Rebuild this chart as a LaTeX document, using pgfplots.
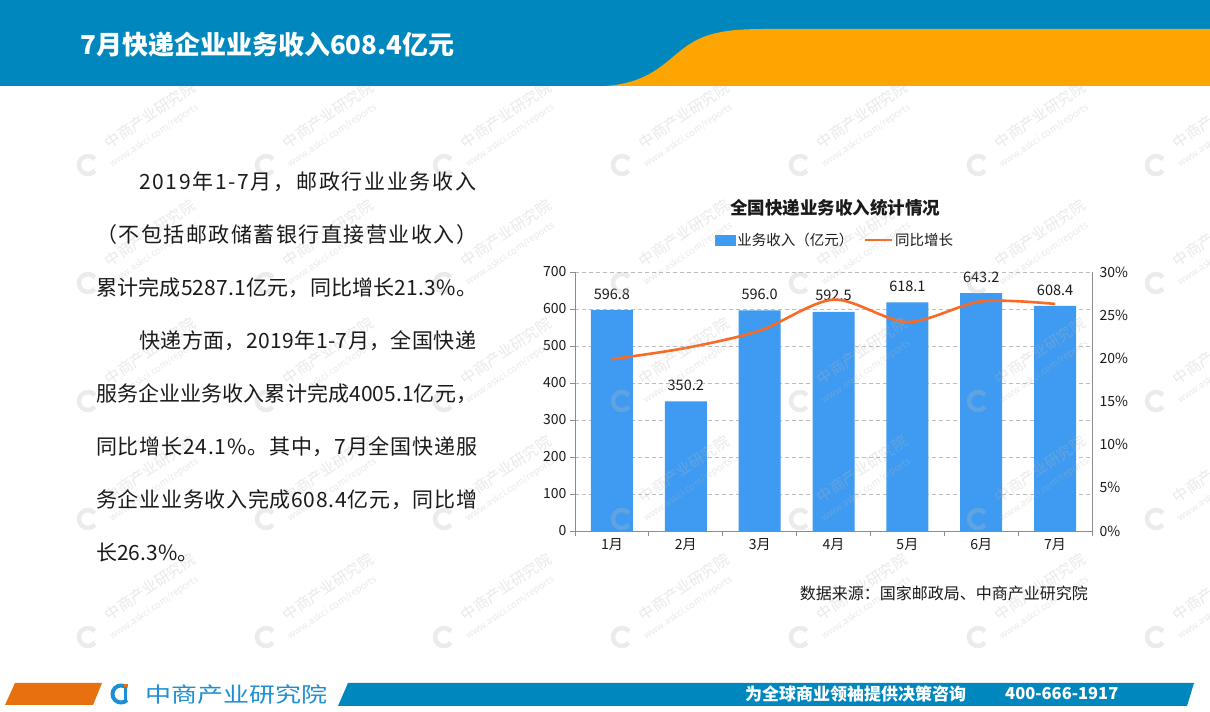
\documentclass[border=0pt]{standalone}
\usepackage{pgfplots}
\pgfplotsset{compat=1.18}
\usepackage{fontspec}
\setmainfont{Noto Sans CJK SC}
\usepackage{graphicx}

\definecolor{headblue}{HTML}{0088BE}
\definecolor{headorange}{HTML}{FFA502}
\definecolor{barblue}{HTML}{3E9BF1}
\definecolor{lineorange}{HTML}{F96A25}
\definecolor{gridgray}{HTML}{BDBDBD}
\definecolor{axisgray}{HTML}{8C8C8C}
\definecolor{textblack}{HTML}{1A1A1A}
\definecolor{footorange}{HTML}{E7700F}
\definecolor{logoblue}{HTML}{1E8FD5}
\definecolor{wmcol}{HTML}{B8B8B8}

% spread the characters of one line over a fixed width (justified CJK line)
\makeatletter
\newcommand\spreadline[2]{\hbox to #1{\@tfor\sp@c:=#2\do{\sp@c\hfil}\unskip}}
\makeatother

\newcommand\fs[1]{\fontsize{#1}{#1}\selectfont}

\begin{document}
\begin{tikzpicture}
\useasboundingbox (0,0) rectangle (1210pt,712pt);
\fill[white] (0,0) rectangle (1210pt,712pt);

% bars, left axis
\begin{axis}[
  at={(575pt,181pt)}, anchor=south west,
  scale only axis, width=517pt, height=259pt,
  xmin=0.5, xmax=7.5, ymin=0, ymax=700,
  axis x line*=bottom, axis y line*=left,
  axis line style={draw=axisgray, line width=0.8pt, -},
  xtick={0.5,1.5,...,7.5}, xticklabels={},
  extra x ticks={1,...,7},
  extra x tick labels={1月,2月,3月,4月,5月,6月,7月},
  extra x tick style={major tick length=0pt, tick label style={yshift=-4pt}},
  ytick={0,100,...,700},
  ymajorgrids,
  grid style={draw=gridgray, line width=0.7pt, dash pattern=on 4pt off 3pt},
  tick align=outside, major tick length=5pt,
  tick style={draw=axisgray, line width=0.8pt},
  tick label style={font=\fs{14}, text=textblack},
  /pgf/number format/assume math mode=true,
  nodes near coords={\pgfmathprintnumber[fixed,fixed zerofill,precision=1]{\pgfplotspointmeta}},
  nodes near coords style={font=\fs{14.5}, text=textblack, anchor=center, yshift=16pt},
  clip=false,
]
\addplot[ybar, bar width=42pt, fill=barblue, draw=none]
  coordinates {(1,596.8) (2,350.2) (3,596.0) (4,592.5) (5,618.1) (6,643.2) (7,608.4)};
\end{axis}

% growth line, right axis
\begin{axis}[
  at={(575pt,181pt)}, anchor=south west,
  scale only axis, width=517pt, height=259pt,
  xmin=0.5, xmax=7.5, ymin=0, ymax=30,
  axis x line=none, axis y line*=right,
  axis line style={draw=axisgray, line width=0.8pt, -},
  ytick={0,5,...,30},
  yticklabel={\pgfmathprintnumber{\tick}\%},
  major tick length=0pt,
  yticklabel style={font=\fs{14}, text=textblack, xshift=4pt},
  /pgf/number format/assume math mode=true,
  legend style={at={(0.503,1.124)}, anchor=center, draw=none, fill=none,
    font=\fs{14.5}, text=textblack, legend columns=-1,
    /tikz/every even column/.append style={column sep=8pt}},
  clip=false,
]
\addlegendimage{legend image code/.code={\fill[barblue] (0pt,-5pt) rectangle (20pt,5pt);}}
\addlegendentry{业务收入（亿元）}
\addplot[smooth, color=lineorange, line width=2.6pt,
  legend image code/.code={\draw[lineorange, line width=2.6pt] (0pt,0pt) -- (27pt,0pt);}]
  coordinates {(1,19.9) (2,21.2) (3,23.2) (4,26.8) (5,24.2) (6,26.6) (7,26.3)};
\addlegendentry{同比增长}
\end{axis}

\begin{scope}[shift={(0pt,712pt)}, x=1pt, y=-1pt]
  % header band
  \fill[headblue] (0,0) rectangle (1210,86);
  \fill[headorange] (605,86) .. controls (650,83) and (665,62) .. (684,48)
    .. controls (703,34) and (722,29) .. (765,29) -- (1210,29) -- (1210,86) -- cycle;
  \node[anchor=base west, text=white, font=\bfseries\fs{26}, inner sep=0pt]
    at (80,55) {7月快递企业业务收入608.4亿元};

  % footer
  \fill[footorange] (15,683) -- (102,683) -- (93,705) -- (5,705) -- cycle;
  \fill[headblue] (348,683) -- (1194,683) -- (1187,706) -- (338,706) -- cycle;
  \draw[logoblue, line width=4pt] ([shift={(45:8.5)}]121,694) arc[start angle=45, end angle=315, radius=8.5];
  \fill[logoblue] (123.5,688) rectangle (127,701);
  \fill[footorange] (124,684.5) rectangle (127.5,687.5);
  \node[anchor=west, text=logoblue, inner sep=0pt] at (145,695)
    {\scalebox{1.24}[1]{\fs{21}中商产业研究院}};
  \node[anchor=west, text=white, font=\bfseries\fs{17}, inner sep=0pt] at (745,694)
    {为全球商业领袖提供决策咨询};
  \node[anchor=west, text=white, font=\bfseries\fs{16.5}, inner sep=0pt] at (1005,694)
    {400-666-1917};

  % watermarks
  \begin{scope}
    \clip (0,87) rectangle (1210,680);
    \foreach \cx in {88,266,...,1156} {
      \foreach \cy in {165,283,...,637} {
        \draw[wmcol, opacity=0.28, line width=4.5pt]
          ([shift={(40:9)}]\cx,\cy) arc[start angle=40, end angle=320, radius=9];
        \node[text=wmcol, text opacity=0.3, rotate=34, font=\fs{15}]
          at (\cx+62,\cy-50) {中商产业研究院};
        \node[text=wmcol, text opacity=0.3, rotate=34, font=\fs{9.5}]
          at (\cx+66,\cy-29) {www.askci.com/reports};
      }
    }
  \end{scope}

  % chart title and source
  \node[text=textblack, font=\bfseries\fs{17.5}] at (835,208) {全国快递业务收入统计情况};
  \node[anchor=east, text=textblack, font=\fs{16}, inner sep=0pt] at (1088,593)
    {数据来源：国家邮政局、中商产业研究院};

  % body text
  \begin{scope}[every node/.style={anchor=base west, inner sep=0pt, text=textblack, font=\fs{21}}]
    \node at (139,190) {\spreadline{337pt}{2019年1-7月，邮政行业业务收入}};
    \node at (96,243) {\spreadline{381pt}{（不包括邮政储蓄银行直接营业收入）}};
    \node at (96,296) {\spreadline{381pt}{累计完成5287.1亿元，同比增长21.3\%。}};
    \node at (139,349) {\spreadline{337pt}{快递方面，2019年1-7月，全国快递}};
    \node at (96,402) {\spreadline{381pt}{服务企业业务收入累计完成4005.1亿元，}};
    \node at (96,455) {\spreadline{381pt}{同比增长24.1\%。其中，7月全国快递服}};
    \node at (96,508) {\spreadline{381pt}{务企业业务收入完成608.4亿元，同比增}};
    \node at (96,561) {长26.3\%。};
  \end{scope}
\end{scope}
\end{tikzpicture}
\end{document}
